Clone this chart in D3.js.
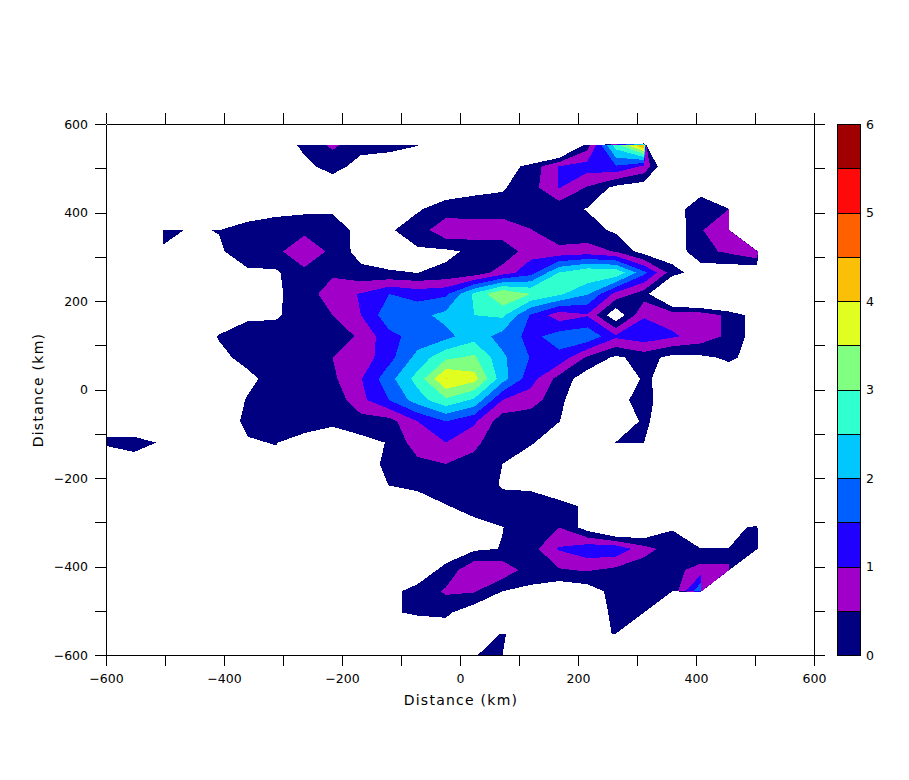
<!DOCTYPE html>
<html><head><meta charset="utf-8">
<script src="https://cdn.jsdelivr.net/npm/d3@7"></script>
<style>html,body{margin:0;padding:0;background:#fff}svg{display:block}
text{font-family:"DejaVu Sans",sans-serif;fill:#000}</style></head>
<body><svg id="c" width="909" height="780"></svg>
<script>
const X=-50, W=-.3; // X: no data, W: below the lowest level
const levels=[0,.5,1,1.5,2,2.5,3,3.5,4,4.5,5,5.5];
const levelColors=["#000080","#a000c8","#2000ff","#0060ff","#00c8ff","#30ffd0","#80ff80","#e0ff20","#fac008","#ff6000","#ff0a0a","#a00000"];
const xTicks=[-600,-500,-400,-300,-200,-100,0,100,200,300,400,500,600];
const xLabelTicks=[-600,-400,-200,0,200,400,600];
const barLabels=[0,1,2,3,4,5,6];
const axisTitle="Distance (km)";
const gridStart=-600, gridStep=48, gridN=26;
const rows=[
[X,X,X,X,X,X,X,X,X,X,X,X,X,X,X,X,X,X,X,X,X,X,X,X,X,X],
[W,W,W,W,W,W,-.3,.1,.6,.15,.1,.01,W,W,W,-1.4,-1.5,.27,2.75,4.5,X,W,W,W,W,W],
[W,W,W,W,W,W,W,-.12,.17,-.17,-.2,-.3,W,W,-.3,.18,1.02,1.22,1.45,.9,-.97,W,W,W,W,W],
[W,W,W,W,W,W,W,W,-.3,W,W,W,-.27,-.12,-.05,.29,1.02,.45,-.15,-.35,W,-.29,X,W,W,W],
[W,W,X,X,X,-.45,-.18,-.12,-.1,W,W,-.05,.2,.2,.2,.2,.18,-.03,W,W,-.33,.4,.5,X,W,W],
[W,X,.16,-.054,.02,.3,.3,.35,.3,-.19,-.055,.22,.9,.83,.85,.52,.2,.2,-.09,W,-.43,.47,.8,X,W,W],
[W,W,-.07,W,-.07,.3,.35,.95,.35,-.2,-.3,-.06,-.1,.1,.1,.81,.63,.7,.47,-.24,-.34,.34,.6,1.02,X,W],
[W,W,W,W,W,-.09,-.07,.35,.4,.14,.05,-.005,.1,.18,.75,1.3,2.52,2.95,2.92,1.64,.22,-.3,-.4,-.55,W,W],
[W,W,W,W,W,W,-.07,.2,.81,1.03,1.5,1.3,1.4,2.6,3.5,3,2.6,2.05,.85,.25,-1.22,-1.6,-1.9,W,W,W],
[W,W,W,W,W,-.1,-.05,.2,.5,1,1.83,1.85,2.15,2.5,2.6,1.45,.7,.95,-.44,.95,.8,.8,.39,-.29,W,W],
[W,W,W,W,.03,.25,.17,.3,.15,.6,1.35,1.7,1.85,2.3,1.8,1.35,1.75,1.9,1.1,1.3,1.07,.8,.39,-.3,W,W],
[W,W,W,W,-.1,.12,.3,.3,.5,.7,1.33,2.17,2.9,3.1,2.1,1.47,1.35,.4,-.1,.2,-.15,-.1,.08,-.18,W,W],
[W,W,W,W,W,-.1,.16,.25,.4,.97,1.82,2.7,4.03,3.7,2.2,1.2,.3,-.3,-.6,.1,-.27,W,W,W,W,W],
[W,W,W,W,W,.03,.3,.3,.15,.86,1.5,2.25,2.9,2.4,1,.75,.13,-.5,-.18,.2,-.4,W,W,W,W,W],
[-.81,-.81,W,W,W,.11,.3,.3,.3,.3,.3,1,1.5,1.1,.2,.15,.01,-.3,-.46,.1,-.38,W,W,W,W,W],
[.3,.3,-.09,W,W,-.043,.02,-.24,-.9,-.17,.03,.79,1,.6,.2,.05,W,W,.01,.002,X,W,W,W,W,W],
[-1.6,-.38,W,W,W,W,-.14,W,W,-.3,.15,.36,.5,.37,0,W,W,W,X,X,W,W,W,W,W,W],
[W,W,W,W,W,W,W,W,W,W,.01,.2,.3,.3,-.05,-.08,W,W,W,W,W,W,W,W,W,W],
[W,W,W,W,W,W,W,W,W,W,-.5,-.5,-.03,.18,.2,.2,.13,-.06,W,W,W,W,W,-3,W,W],
[W,W,W,W,W,W,W,W,W,W,W,W,W,-.17,-.01,.25,.5,-.25,-1.04,-.7,-.04,W,-.4,.25,X,W],
[W,W,W,W,W,W,W,W,W,W,W,W,W,-.1,.02,.3,1.05,1.35,1.38,.7,.25,.005,.02,.3,X,W],
[W,W,W,W,W,W,W,W,W,W,W,W,.14,.94,.85,.23,.45,.55,.37,.2,.32,.72,.7,X,W,W],
[W,W,W,W,W,W,W,W,W,W,-.12,.15,.58,.55,0,-.1,-.42,-.27,.19,.15,.11,2,X,W,W,W],
[W,W,W,W,W,W,W,W,W,W,-.04,.05,.1,-.34,X,W,W,W,.11,.1,X,X,W,W,W,W],
[W,W,W,W,W,W,W,W,W,W,W,W,W,-1.15,.1,-.7,W,W,.05,X,W,W,W,W,W,W],
[W,W,W,W,W,W,W,W,W,W,W,W,W,-.03,.2,X,W,W,X,W,W,W,W,W,W,W]
];

const L=106,R=814,T=124,B=655;
const xs=d3.scaleLinear([-600,600],[L,R]);
const ys=d3.scaleLinear([-600,600],[B,T]);
const cy=d3.scaleLinear([0,6],[B,T]);
const svg=d3.select("#c");
svg.append("defs").append("clipPath").attr("id","plot").append("rect")
  .attr("x",L).attr("y",T).attr("width",R-L).attr("height",B-T);

const contours=d3.contours().size([gridN,gridN]).thresholds(levels)(rows.flat());
const proj=d3.geoTransform({point(px,py){
  this.stream.point(xs(gridStart+(px-.5)*gridStep), ys(-gridStart-(py-.5)*gridStep));
}});
const path=d3.geoPath(proj);
svg.append("g").attr("clip-path","url(#plot)").selectAll("path").data(contours).join("path")
  .attr("d",path).attr("fill",(d,i)=>levelColors[i]).attr("shape-rendering","crispEdges");

const fmt=d=>xLabelTicks.includes(d)?d3.format("d")(d):"";
function style(g){
  g.selectAll("path,line").attr("stroke","#000").attr("shape-rendering","crispEdges");
  g.selectAll("text").attr("font-size",12.5).attr("font-family",'"DejaVu Sans",sans-serif').attr("fill","#000");
}
svg.append("g").attr("transform",`translate(0,${B})`)
  .call(d3.axisBottom(xs).tickValues(xTicks).tickSize(11).tickSizeOuter(0).tickFormat(fmt).tickPadding(8)).call(style);
svg.append("g").attr("transform",`translate(0,${T})`)
  .call(d3.axisTop(xs).tickValues(xTicks).tickSize(11).tickSizeOuter(0).tickFormat("")).call(style);
svg.append("g").attr("transform",`translate(${L},0)`)
  .call(d3.axisLeft(ys).tickValues(xTicks).tickSize(11).tickSizeOuter(0).tickFormat(fmt).tickPadding(7)).call(style);
svg.append("g").attr("transform",`translate(${R},0)`)
  .call(d3.axisRight(ys).tickValues(xTicks).tickSize(11).tickSizeOuter(0).tickFormat("")).call(style);

// colour bar
const barX=837, barW=23;
svg.append("g").selectAll("rect").data(levels).join("rect")
  .attr("x",barX+.5).attr("width",barW)
  .attr("y",(d,i)=>Math.round(cy(d+.5))+.5)
  .attr("height",(d,i)=>Math.round(cy(d))-Math.round(cy(d+.5)))
  .attr("fill",(d,i)=>levelColors[i]).attr("stroke","#000").attr("shape-rendering","crispEdges");
svg.append("g").selectAll("text").data(barLabels).join("text")
  .attr("x",866).attr("y",d=>cy(d)+4.5).attr("font-size",12.5).text(d=>d);

svg.append("text").attr("x",461).attr("y",705).attr("text-anchor","middle")
  .attr("font-size",14).attr("letter-spacing",1.25).text(axisTitle);
svg.append("text").attr("transform","translate(43,390) rotate(-90)").attr("text-anchor","middle")
  .attr("font-size",14).attr("letter-spacing",1.25).text(axisTitle);
</script></body></html>
